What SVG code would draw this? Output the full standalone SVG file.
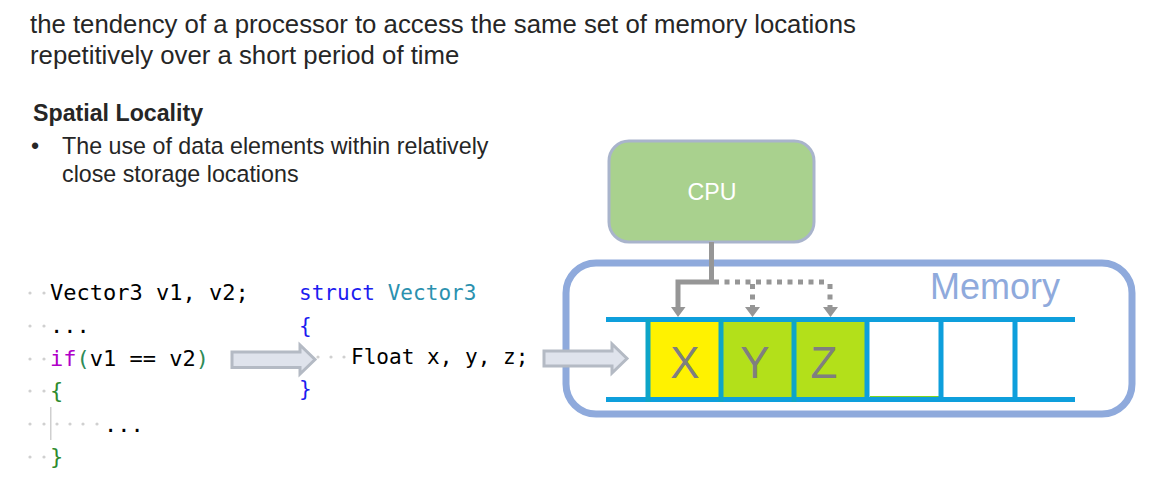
<svg xmlns="http://www.w3.org/2000/svg" width="1158" height="495" viewBox="0 0 1158 495">
<style>
.s{font-family:"Liberation Sans",Arial,sans-serif}
.c{font-family:"DejaVu Sans Mono","Liberation Mono",monospace;font-size:22px;fill:#000}
.r{font-size:21.05px}
.h{font-size:25.75px;fill:#262626}
.b{font-size:23.25px;fill:#262626}
.l{font-size:44px;fill:#7f7f7f;text-anchor:middle}
.d{fill:#d0d0d0}
.t{fill:none;stroke:#0e9fdc;stroke-width:5}
.v{fill:none;stroke:#0ea5c8;stroke-width:5}
.a{fill:#dfe3ec;stroke:#b4bac4;stroke-width:3}
.w{fill:none;stroke:#969696;stroke-width:5}
.wd{fill:none;stroke:#969696;stroke-width:5;stroke-dasharray:5 5.5}
.ah{fill:#969696}
</style>
<rect width="1158" height="495" fill="#fff"/>
<g id="heading">
<text class="s h" x="30" y="33">the tendency of a processor to access the same set of memory locations</text>
<text class="s h" x="30" y="64">repetitively over a short period of time</text>
</g>
<g id="spatial-locality">
<text class="s" x="33" y="121" font-size="23.2" font-weight="700" fill="#262626">Spatial Locality</text>
<text class="s b" x="31" y="154">•</text>
<text class="s b" x="62" y="154">The use of data elements within relatively</text>
<text class="s b" x="62" y="182">close storage locations</text>
</g>
<g id="code-left">
<g class="d">
<circle cx="30" cy="293" r="1.6"/><circle cx="44" cy="293" r="1.6"/>
<circle cx="30" cy="326" r="1.6"/><circle cx="44" cy="326" r="1.6"/>
<circle cx="30" cy="359" r="1.6"/><circle cx="44" cy="359" r="1.6"/>
<circle cx="30" cy="391" r="1.6"/><circle cx="44" cy="391" r="1.6"/>
<circle cx="30" cy="424" r="1.6"/><circle cx="44" cy="424" r="1.6"/><circle cx="57" cy="424" r="1.6"/><circle cx="70" cy="424" r="1.6"/><circle cx="83" cy="424" r="1.6"/><circle cx="97" cy="424" r="1.6"/>
<circle cx="30" cy="457" r="1.6"/><circle cx="44" cy="457" r="1.6"/>
</g>
<rect x="50" y="407" width="1.5" height="33" fill="#cfcfcf"/>
<text class="c" x="50" y="300">Vector3 v1, v2;</text>
<text class="c" x="50" y="333">...</text>
<text class="c" x="50" y="366"><tspan fill="#b000c8">if</tspan><tspan fill="#2e8b57">(</tspan>v1 == v2<tspan fill="#2e8b57">)</tspan></text>
<text class="c" x="50" y="398" style="fill:#2e8b2e">{</text>
<text class="c" x="104" y="432">...</text>
<text class="c" x="50" y="464" style="fill:#2e8b2e">}</text>
</g>
<g id="code-right">
<g class="d"><circle cx="318" cy="357" r="1.6"/><circle cx="331" cy="357" r="1.6"/><circle cx="344" cy="357" r="1.6"/></g>
<text class="c r" x="299" y="300" style="fill:#1c1cf0">struct <tspan fill="#2b91af">Vector3</tspan></text>
<text class="c r" x="299" y="333" style="fill:#1c1cf0">{</text>
<text class="c r" x="351" y="364">Float x, y, z;</text>
<text class="c r" x="299" y="396" style="fill:#1c1cf0">}</text>
</g>
<g id="cpu">
<rect x="609" y="141" width="205" height="101" rx="20" fill="#a9d18e" stroke="#a9b4cc" stroke-width="3"/>
<text class="s" x="712" y="200" font-size="23.2" fill="#fff" text-anchor="middle">CPU</text>
</g>
<g id="memory">
<rect x="566" y="263" width="566" height="151" rx="30" fill="#fff" stroke="#8faadc" stroke-width="7"/>
<text class="s" x="930" y="299" font-size="36" fill="#8faadc">Memory</text>
<rect x="648" y="321" width="72" height="77" fill="#fff200"/>
<rect x="721" y="321" width="72" height="77" fill="#b3e01a"/>
<rect x="794" y="321" width="72" height="77" fill="#b3e01a"/>
<path d="M870 396.500H940" stroke="#7ed321" stroke-width="1"/>
<path class="t" d="M606 319.500H1075M606 399.500H1075"/>
<path class="v" d="M648 319V402M721 319V402M794 319V402"/>
<path class="t" d="M867 319V402M941 319V402M1015 319V402"/>
<text class="s l" x="685" y="378">X</text>
<text class="s l" x="755" y="378">Y</text>
<text class="s l" x="824" y="378">Z</text>
</g>
<g id="connectors">
<path class="w" d="M711.500 242V282H678V310"/>
<path class="wd" d="M714 282H829"/>
<path class="wd" d="M752.500 284V310M830 284V310"/>
<path class="ah" d="M671 307H685.500L678 317ZM745 307H760L752.500 317ZM823 307H838L830.500 317Z"/>
<path class="a" d="M232 352H300V345L315 359.500L300 374V367.500H232Z"/>
<path class="a" d="M544 351H612V344L627 358.500L612 373V366H544Z"/>
</g>
</svg>
